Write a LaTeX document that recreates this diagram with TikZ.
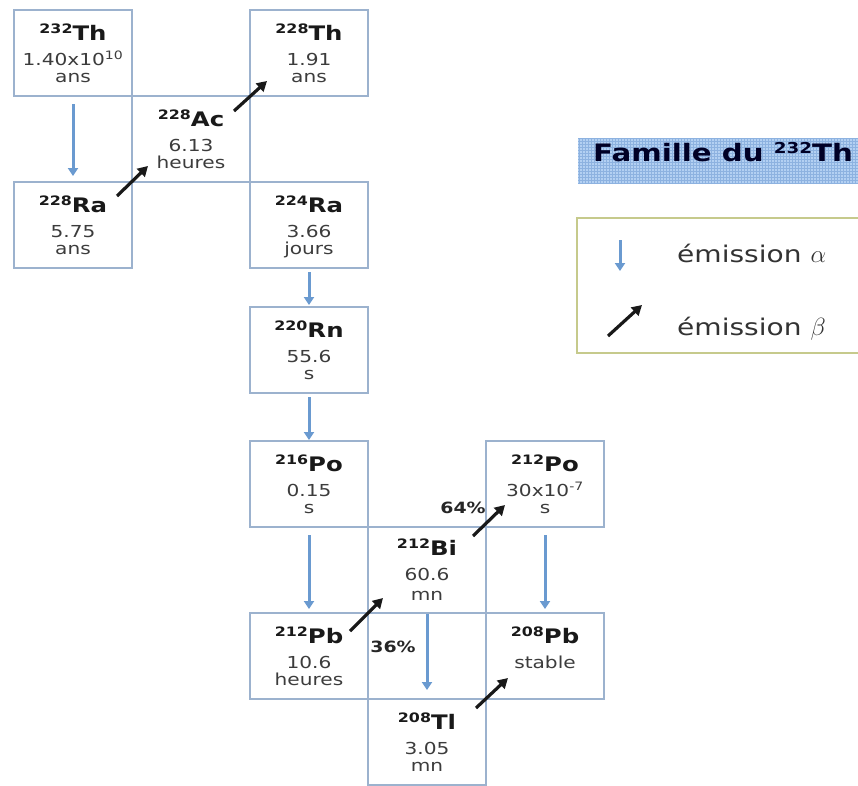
\documentclass[tikz,border=0pt]{standalone}
\usepackage{fontspec}
\setmainfont{DejaVu Sans}[FakeStretch=1.22]
\usetikzlibrary{positioning,arrows.meta}
\definecolor{boxline}{HTML}{9CB2CE}
\definecolor{alphablue}{HTML}{6A9AD0}
\definecolor{numgray}{HTML}{3C3C3C}
\definecolor{legline}{HTML}{C6CA8C}
\definecolor{titlefill}{HTML}{B3D0F2}
\definecolor{titlegrid}{HTML}{8DB2E0}
\newcommand{\nuc}[2]{{\bfseries\color{black!90}\raisebox{7pt}{\fontsize{13}{13}\selectfont #1}\fontsize{20}{20}\selectfont #2}}

\begin{document}
\begin{tikzpicture}[x=1pt,y=-1pt,
  nucbox/.style={shape=rectangle,draw=boxline,line width=1.6pt,minimum width=118pt,minimum height=86pt,
    inner sep=0pt,outer sep=0pt,align=center,text=numgray,text depth=0pt,node font={\fontsize{16.5}{17}\selectfont}},
  alphaarrow/.style={draw=alphablue,line width=3pt,-{Triangle[length=8pt,width=10pt]}},
  betaarrow/.style={draw=black!90,line width=3.2pt,-{Triangle[length=10pt,width=11pt]}},
  pct/.style={node font={\bfseries\fontsize{15.5}{15.5}\selectfont},text=black!85,inner sep=0pt},
  legtext/.style={anchor=base west,inner sep=0pt,text=black!80,node font={\fontsize{23}{23}\selectfont}}]
\fill[white] (0,0) rectangle (858,785);
\useasboundingbox (0,0) rectangle (858,785);

% decay chain
\node[nucbox] (Th232) at (73,53) {\nuc{232}{Th}\\[8pt]1.40x10\textsuperscript{10}\\ans};
\node[nucbox,below right=0pt of Th232] (Ac228) {\nuc{228}{Ac}\\[8pt]6.13\\heures};
\node[nucbox,above right=0pt of Ac228] (Th228) {\nuc{228}{Th}\\[8pt]1.91\\ans};
\node[nucbox,below left=0pt of Ac228] (Ra228) {\nuc{228}{Ra}\\[8pt]5.75\\ans};
\node[nucbox,below right=0pt of Ac228] (Ra224) {\nuc{224}{Ra}\\[8pt]3.66\\jours};
\node[nucbox,below=39pt of Ra224] (Rn220) {\nuc{220}{Rn}\\[8pt]55.6\\s};
\node[nucbox,below=48pt of Rn220] (Po216) {\nuc{216}{Po}\\[8pt]0.15\\s};
\node[nucbox,below right=0pt of Po216] (Bi212) {\nuc{212}{Bi}\\[8pt]60.6\\[3pt]mn};
\node[nucbox,above right=0pt of Bi212] (Po212) {\nuc{212}{Po}\\[8pt]30x10\textsuperscript{-7}\\s};
\node[nucbox,below left=0pt of Bi212] (Pb212) {\nuc{212}{Pb}\\[8pt]10.6\\heures};
\node[nucbox,below right=0pt of Bi212] (Pb208) {\nuc{208}{Pb}\\[8pt]stable\\~};
\node[nucbox,below right=0pt of Pb212] (Tl208) {\nuc{208}{Tl}\\[8pt]3.05\\mn};

% alpha
\draw[alphaarrow,shorten <=8pt,shorten >=6pt] (Th232) -- (Ra228);
\draw[alphaarrow,shorten <=4pt,shorten >=2pt] (Ra224) -- (Rn220);
\draw[alphaarrow,shorten <=4pt,shorten >=1pt] (Rn220) -- (Po216);
\draw[alphaarrow,shorten <=8pt,shorten >=4pt] (Po216) -- (Pb212);
\draw[alphaarrow,shorten <=8pt,shorten >=4pt] (Po212) -- (Pb208);
\draw[alphaarrow,shorten <=1pt,shorten >=9pt] (Bi212) -- (Tl208);

% beta
\draw[betaarrow] ([shift={(-15,14)}]Ra228.north east) -- ([shift={(16,-16)}]Ac228.south west);
\draw[betaarrow] ([shift={(-16,15)}]Ac228.north east) -- ([shift={(17,-15)}]Th228.south west);
\draw[betaarrow] ([shift={(-18,18)}]Pb212.north east) -- ([shift={(15,-15)}]Bi212.south west);
\draw[betaarrow] ([shift={(-13,9)}]Bi212.north east) -- ([shift={(19,-22)}]Po212.south west);
\draw[betaarrow] ([shift={(-10,9)}]Tl208.north east) -- ([shift={(22,-21)}]Pb208.south west);

\node[pct] (p64) at ([shift={(36,-19)}]Bi212.north) {64\%};
\node[pct] (p36) at ([shift={(25,-9)}]Pb212.east) {36\%};

% legend
\fill[titlefill] (578,138) rectangle (870,184);
\draw[titlegrid,step=3pt,line width=0.3pt] (578,138) grid (870,184);
\node[anchor=base west,inner sep=0pt,text=black!85!blue,node font={\bfseries\fontsize{24}{24}\selectfont}] (ttl)
  at (593,161) {Famille du \raisebox{8pt}{\fontsize{15}{15}\selectfont 232}Th};

\draw[legline,line width=1.5pt] (577,218) rectangle (880,353);
\coordinate (a1) at (620,240);
\coordinate (a2) at (620,271);
\draw[alphaarrow] (a1) -- (a2);
\node[legtext] (la) at (677,262) {émission $\alpha$};
\coordinate (b1) at (608,336);
\coordinate (b2) at (642,305);
\draw[betaarrow] (b1) -- (b2);
\node[legtext] (lb) at (677,335) {émission $\beta$};
\end{tikzpicture}
\end{document}
